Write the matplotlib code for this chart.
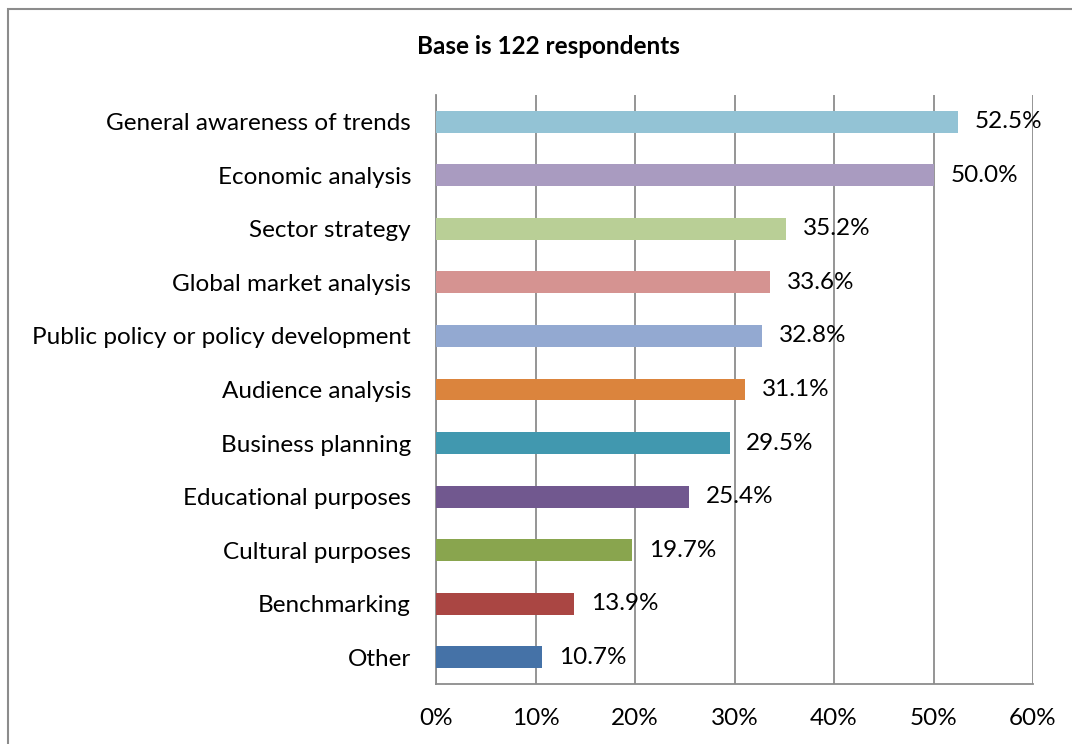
import matplotlib.pyplot as plt
from matplotlib.patches import Rectangle

plt.rcParams['font.family'] = ['Lato', 'DejaVu Sans']

categories = ['General awareness of trends', 'Economic analysis', 'Sector strategy',
              'Global market analysis', 'Public policy or policy development',
              'Audience analysis', 'Business planning', 'Educational purposes',
              'Cultural purposes', 'Benchmarking', 'Other']
values = [52.5, 50.0, 35.2, 33.6, 32.8, 31.1, 29.5, 25.4, 19.7, 13.9, 10.7]
colors = ['#93C3D5', '#A99BC0', '#B9CF96', '#D59391', '#93A9D1', '#DB843D',
          '#4198AF', '#71588F', '#89A54E', '#AA4643', '#4572A7']
xticks = [0, 10, 20, 30, 40, 50, 60]

fig = plt.figure(figsize=(10.72, 7.44), dpi=100)

# outer chart frame
fig.patches.append(Rectangle((8 / 1072, -0.05), 1.1, 1 - 9 / 744 + 0.05,
                             transform=fig.transFigure, fill=False,
                             edgecolor='#8c8c8c', linewidth=1.5))

ax = fig.add_axes([436 / 1072, 1 - 684 / 744, 597 / 1072, 589 / 744])

ypos = list(range(len(categories)))
ax.barh(ypos, values, height=0.41, color=colors, zorder=3)
for y, v in zip(ypos, values):
    ax.annotate('%.1f%%' % v, (v, y), xytext=(12, 0), textcoords='offset points',
                va='center', ha='left', fontsize=17.5, color='black', zorder=4)

ax.set_xlim(0, 60)
ax.set_ylim(10.5, -0.5)
ax.set_xticks(xticks)
ax.set_xticklabels(['%d%%' % t for t in xticks], fontsize=17.5)
ax.set_yticks(ypos)
ax.set_yticklabels(categories, fontsize=17.5)
ax.tick_params(axis='x', length=0, pad=17)
ax.tick_params(axis='y', length=0, pad=18)
ax.grid(axis='x', color='#8c8c8c', linewidth=1.3, zorder=1)

for side in ['top', 'right']:
    ax.spines[side].set_visible(False)
for side in ['left', 'bottom']:
    ax.spines[side].set_color('#8c8c8c')
    ax.spines[side].set_linewidth(1.3)

fig.text(548 / 1072, 1 - 47 / 744, 'Base is 122 respondents', ha='center', va='center',
         fontsize=17.5, fontweight='bold')

fig.savefig('out.png', dpi=100)
